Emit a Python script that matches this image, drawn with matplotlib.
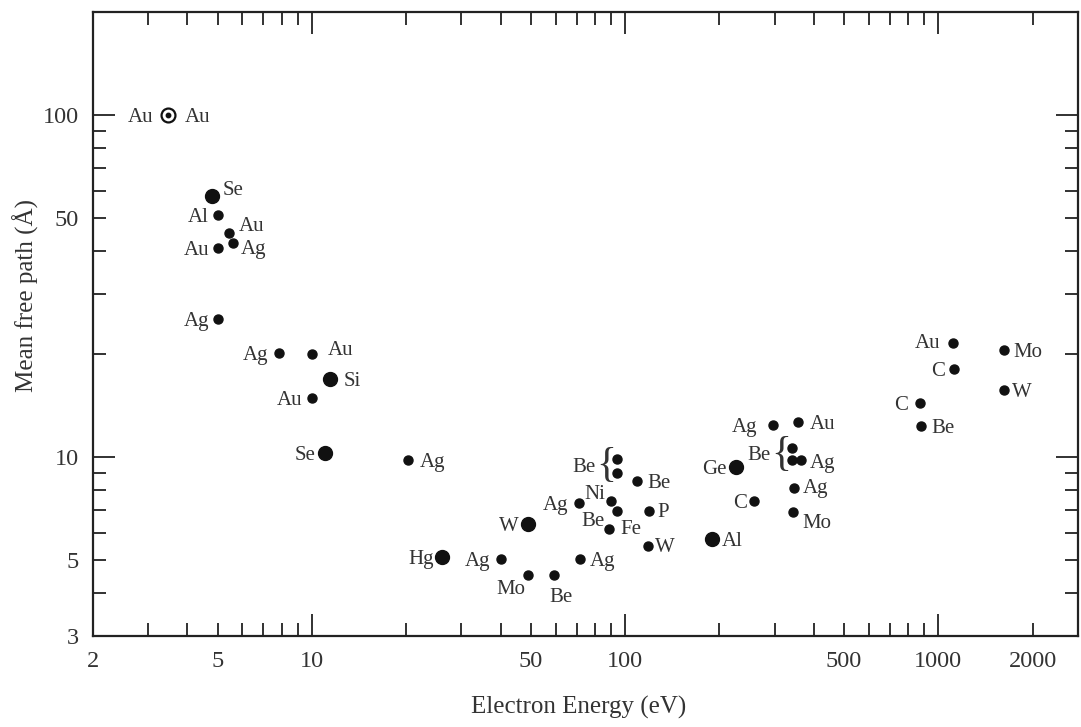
import matplotlib
matplotlib.use("Agg")
import matplotlib.pyplot as plt

plt.rcParams['font.family'] = ['Liberation Serif', 'DejaVu Serif']

# electron energy (eV) and mean free path (Angstrom)
energy = [3.47, 4.8, 5.0, 5.42, 5.58, 5.0, 5.0, 7.88, 10.0, 11.4,
          10.0, 11.0, 20.2, 94.1, 94.1, 109, 71.3, 90.0, 94.1, 119.5,
          49.1, 89.1, 118, 26.1, 40.2, 71.8, 48.8, 59.3, 296, 357,
          340, 342, 364, 225.6, 347, 258.6, 344.6, 189, 1117, 1125,
          874, 880, 1624, 1624]
mfp = [100, 58.0, 51.1, 45.3, 42.3, 40.8, 25.4, 20.1, 20.0, 16.9,
       14.9, 10.3, 9.8, 9.84, 9.0, 8.54, 7.35, 7.46, 6.98, 6.98,
       6.38, 6.17, 5.49, 5.10, 5.04, 5.02, 4.51, 4.51, 12.45, 12.7,
       10.6, 9.8, 9.8, 9.35, 8.12, 7.46, 6.91, 5.77, 21.5, 18.1,
       14.4, 12.3, 20.6, 15.7]
element = ["Au", "Se", "Al", "Au", "Ag", "Au", "Ag", "Ag", "Au", "Si",
           "Au", "Se", "Ag", "Be", "Be", "Be", "Ag", "Ni", "Be", "P",
           "W", "Fe", "W", "Hg", "Ag", "Ag", "Mo", "Be", "Ag", "Au",
           "Be", "Be", "Ag", "Ge", "Ag", "C", "Mo", "Al", "Au", "C",
           "C", "Be", "Mo", "W"]

x_major = [10, 100, 1000]
x_minor = [2, 3, 4, 5, 6, 7, 8, 9, 20, 30, 40, 50, 60, 70, 80, 90,
           200, 300, 400, 500, 600, 700, 800, 900, 2000]
x_minor_labels = {2: "2", 5: "5", 50: "50", 500: "500", 2000: "2000"}
y_major = [10, 100]
y_minor = [3, 4, 5, 6, 7, 8, 9, 20, 30, 40, 50, 60, 70, 80, 90]
y_minor_labels = {3: "3", 5: "5", 50: "50"}

# marker style per point: ring, big dot or small dot
marker_kind = ["ring", "big", "dot", "dot", "dot", "dot", "dot", "dot", "dot", "big",
               "dot", "big", "dot", "dot", "dot", "dot", "dot", "dot", "dot", "dot",
               "big", "dot", "dot", "big", "dot", "dot", "dot", "dot", "dot", "dot",
               "dot", "dot", "dot", "big", "dot", "dot", "dot", "big", "dot", "dot",
               "dot", "dot", "dot", "dot"]

# label placement (dx, dy in pixels, image-down; ha); None = no own label
label_pos = [(17, 0, "left"), (11, -8, "left"), (-9, 0, "right"), (10, -9, "left"),
             (8, 4, "left"), (-8, 0, "right"), (-8, 0, "right"), (-11, 0, "right"),
             (16, -6, "left"), (14, 0, "left"), (-9, 0, "right"), (-9, 0, "right"),
             (12, 0, "left"), None, None, (10, 0, "left"), (-11, 0, "right"),
             (-6, -9, "right"), (-12, 8, "right"), (8, -1, "left"), (-10, 0, "right"),
             (11, -2, "left"), (7, -1, "left"), (-9, 0, "right"), (-11, 0, "right"),
             (10, 0, "left"), (-2, 12, "right"), (7, 20, "center"), (-15, 0, "right"),
             (12, 0, "left"), None, None, (9, 1, "left"), (-9, 0, "right"),
             (8, -2, "left"), (-7, 0, "right"), (9, 9, "left"), (10, 0, "left"),
             (-13, -2, "right"), (-9, 0, "right"), (-12, 0, "right"), (10, 0, "left"),
             (9, 0, "left"), (8, 0, "left")]

# pairs of points grouped with a brace and one label
brace_pairs = [(13, 14), (30, 31)]

text_color = "#333333"
fig = plt.figure(figsize=(10.81, 7.27), dpi=100)
ax = fig.add_axes([0.086, 0.1252, 0.9112, 0.8583])
ax.set_xscale("log")
ax.set_yscale("log")
ax.set_xlim(2, 2790)
ax.set_ylim(3, 200)

for i in range(len(energy)):
    k = marker_kind[i]
    if k == "ring":
        ax.plot(energy[i], mfp[i], "o", ms=10, mfc="white", mec="#111111", mew=1.6)
        ax.plot(energy[i], mfp[i], "o", ms=3.2, color="#111111")
    elif k == "big":
        ax.plot(energy[i], mfp[i], "o", ms=10, color="#111111")
    else:
        ax.plot(energy[i], mfp[i], "o", ms=6.5, color="#111111")

for i in range(len(energy)):
    p = label_pos[i]
    if p is None:
        continue
    ax.annotate(element[i], (energy[i], mfp[i]), xytext=(p[0], -p[1]),
                textcoords="offset pixels", ha=p[2], va="center_baseline",
                fontsize=15, color=text_color)
# second label on the circled Au point
ax.annotate("Au", (energy[0], mfp[0]), xytext=(-15, 0), textcoords="offset pixels",
            ha="right", va="center_baseline", fontsize=15, color=text_color)

for a, b in brace_pairs:
    xm = (energy[a] * energy[b]) ** 0.5
    ym = (mfp[a] * mfp[b]) ** 0.5
    ax.annotate("{", (xm, ym), xytext=(-11, 0), textcoords="offset pixels",
                ha="center", va="center", fontsize=30, fontweight="light",
                color=text_color)
    ax.annotate(element[a], (xm, ym), xytext=(-21, 1), textcoords="offset pixels",
                ha="right", va="center_baseline", fontsize=15, color=text_color)

ax.set_xticks(x_major, [str(v) for v in x_major])
ax.set_xticks(x_minor, [x_minor_labels.get(v, "") for v in x_minor], minor=True)
ax.set_yticks(y_major, [str(v) for v in y_major])
ax.set_yticks(y_minor, [y_minor_labels.get(v, "") for v in y_minor], minor=True)

ax.tick_params(which="both", direction="in", top=True, right=True,
               colors="#222222", labelcolor=text_color, labelsize=17.5, width=1.3)
ax.tick_params(which="major", length=16)
ax.tick_params(which="minor", length=9.5)
ax.tick_params(axis="x", which="both", pad=11)
ax.tick_params(axis="y", which="both", pad=10)
for s in ax.spines.values():
    s.set_linewidth(1.6)
    s.set_color("#222222")

ax.set_xlabel("Electron Energy (eV)", fontsize=18, color=text_color)
ax.xaxis.set_label_coords(0.493, -0.115)
ax.xaxis.label.set_va("center")
ax.set_ylabel("Mean free path (Å)", fontsize=18, color=text_color)
ax.yaxis.set_label_coords(-0.068, 0.546)
ax.yaxis.label.set_va("center")

fig.savefig("out.png", dpi=100)
